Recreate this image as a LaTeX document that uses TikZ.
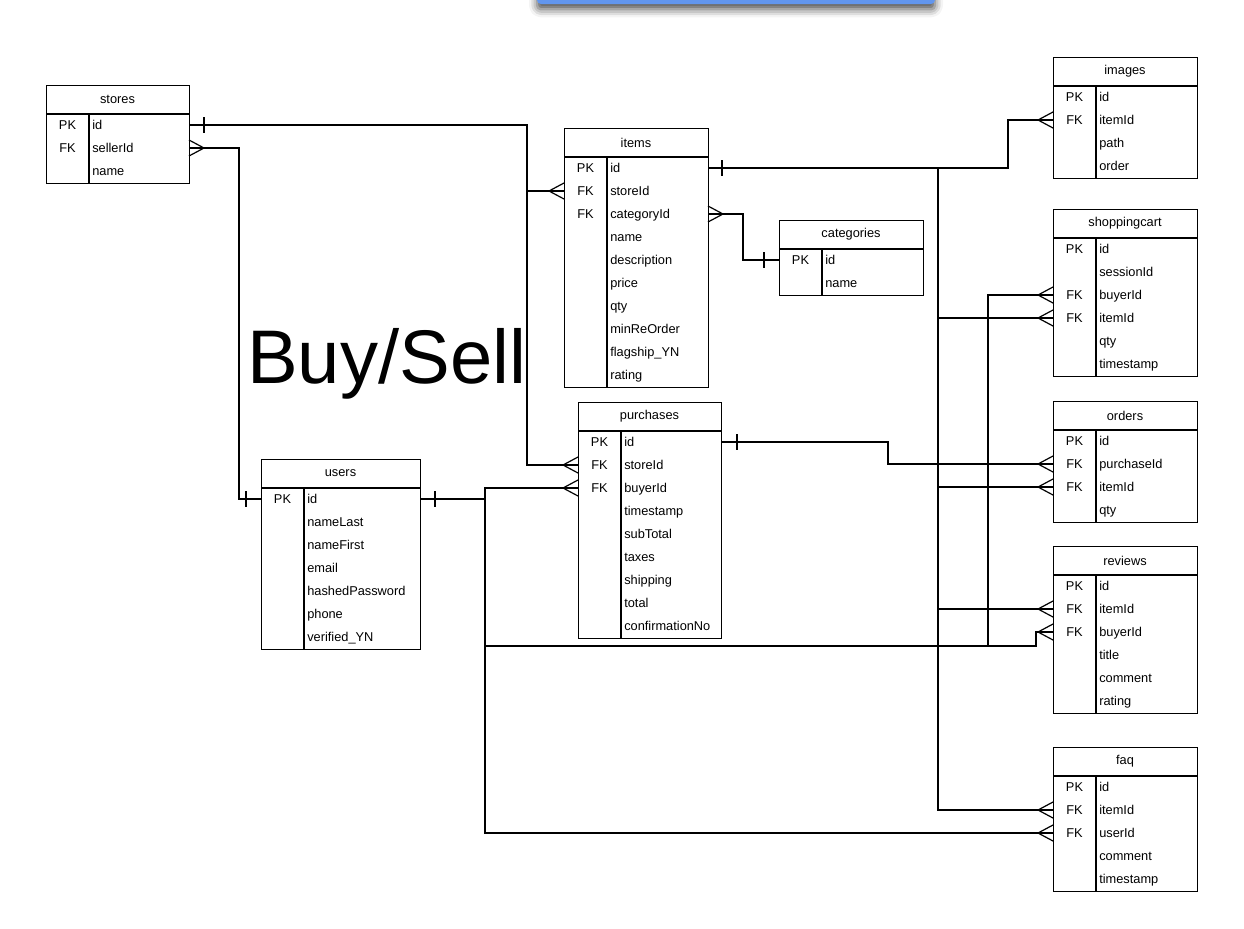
\documentclass[tikz,border=0pt]{standalone}
\usepackage{fontspec}
\setmainfont{Liberation Sans}
\usetikzlibrary{calc,shadows.blur}
\definecolor{barblue}{RGB}{98,150,238}
\tikzset{
  tbl/.style={draw, anchor=north west, inner sep=0pt, line width=0.9pt},
  ttl/.style={font=\fontsize{9.6}{11}\selectfont, inner sep=0pt},
  keytxt/.style={font=\fontsize{9.6}{11}\selectfont, inner sep=0pt},
  fldtxt/.style={font=\fontsize{9.6}{11}\selectfont, inner sep=0pt, anchor=west},
  conn/.style={line width=0.9pt},
}
\newcommand{\ertab}[7]{%
  \pgfmathsetmacro{\tabH}{29+23*#6}
  \node[tbl, minimum width=#4*0.75pt, minimum height=\tabH*0.75pt] (#1) at (#2,#3) {};
  \node[ttl] (#1-t) at (#2+#4/2,#3+14.5) {#5};
  \draw[line width=0.9pt] (#2,#3+29) -- (#2+#4,#3+29);
  \draw[line width=0.9pt] (#2+43,#3+29) -- (#2+43,#3+\tabH);
  \foreach \kk/\ff [count=\ii] in {#7} {
    \pgfmathsetmacro{\yy}{#3+29+23*\ii-12}
    \node[keytxt] (#1-k\ii) at (#2+21.5,\yy+2) {\strut\kk};
    \node[fldtxt] (#1-f\ii) at (#2+46,\yy+2) {\strut\ff};
    \coordinate (#1-\ii-w) at (#2,\yy);
    \coordinate (#1-\ii-e) at (#2+#4,\yy);
  }
}
\newcommand{\crowW}[1]{\draw[conn] ($(#1)+(0,-8)$) -- ($(#1)+(-15,0)$) -- ($(#1)+(0,8)$);}
\newcommand{\crowE}[1]{\draw[conn] ($(#1)+(0,-8)$) -- ($(#1)+(15,0)$) -- ($(#1)+(0,8)$);}
\newcommand{\tickE}[2]{\draw[conn] ($(#1)+(#2,-8)$) -- ($(#1)+(#2,8)$);}
\newcommand{\tickW}[2]{\draw[conn] ($(#1)+(-#2,-8)$) -- ($(#1)+(-#2,8)$);}
\begin{document}
\begin{tikzpicture}[x=0.75pt,y=-0.75pt]
\useasboundingbox (0,0) rectangle (1244,928);
% top bar
\fill[barblue, rounded corners=3pt, blur shadow={shadow xshift=0pt, shadow yshift=-4pt, shadow blur radius=6pt, shadow opacity=70}] (537,-30) rectangle (935,4);
% big title
\node[anchor=base west, inner sep=0pt, font=\fontsize{57}{60}\selectfont] (bigtitle) at (247,383) {Buy/Sell};
% tables
\ertab{stores}{46}{85}{143}{stores}{3}{PK/id,FK/sellerId,/name}
\ertab{items}{564}{128}{144}{items}{10}{PK/id,FK/storeId,FK/categoryId,/name,/description,/price,/qty,/minReOrder,/flagship\_YN,/rating}
\ertab{categories}{779}{220}{144}{categories}{2}{PK/id,/name}
\ertab{images}{1053}{57}{144}{images}{4}{PK/id,FK/itemId,/path,/order}
\ertab{shoppingcart}{1053}{209}{144}{shoppingcart}{6}{PK/id,/sessionId,FK/buyerId,FK/itemId,/qty,/timestamp}
\ertab{orders}{1053}{401}{144}{orders}{4}{PK/id,FK/purchaseId,FK/itemId,/qty}
\ertab{reviews}{1053}{546}{144}{reviews}{6}{PK/id,FK/itemId,FK/buyerId,/title,/comment,/rating}
\ertab{faq}{1053}{747}{144}{faq}{5}{PK/id,FK/itemId,FK/userId,/comment,/timestamp}
\ertab{purchases}{578}{402}{143}{purchases}{9}{PK/id,FK/storeId,FK/buyerId,/timestamp,/subTotal,/taxes,/shipping,/total,/confirmationNo}
\ertab{users}{261}{459}{159}{users}{7}{PK/id,/nameLast,/nameFirst,/email,/hashedPassword,/phone,/verified\_YN}
% bus coordinates
\coordinate (busA) at (527,0);
\coordinate (busB) at (239,0);
\coordinate (busC) at (485,0);
\coordinate (busD) at (0,646);
\coordinate (busE) at (1036,0);
\coordinate (busF) at (988,0);
\coordinate (busG) at (938,0);
\coordinate (busH) at (1008,0);
\coordinate (busI) at (743,0);
\coordinate (busJ) at (888,0);
% stores.id -> items.storeId, purchases.storeId
\draw[conn] (stores-1-e) -- (stores-1-e -| busA) |- (purchases-2-w);
\draw[conn] (busA |- items-2-w) -- (items-2-w);
% stores.sellerId -> users.id
\draw[conn] (stores-2-e) -- (stores-2-e -| busB) |- (users-1-w);
% users.id -> purchases.buyerId, reviews.buyerId, faq.userId, shoppingcart.buyerId
\draw[conn] (users-1-e) -- (users-1-e -| busC);
\draw[conn] (purchases-3-w) -- (busC |- purchases-3-w) -- (busC |- faq-3-w) -- (faq-3-w);
\draw[conn] (busC |- busD) -| (busE |- reviews-3-w) -- (reviews-3-w);
\draw[conn] (shoppingcart-3-w) -- (busF |- shoppingcart-3-w) -- (busF |- busD);
% items.id -> images, shoppingcart, orders, reviews, faq
\draw[conn] (items-1-e) -- (items-1-e -| busH) |- (images-2-w);
\draw[conn] (busG |- items-1-e) -- (busG |- faq-2-w) -- (faq-2-w);
\draw[conn] (busG |- shoppingcart-4-w) -- (shoppingcart-4-w);
\draw[conn] (busG |- orders-3-w) -- (orders-3-w);
\draw[conn] (busG |- reviews-2-w) -- (reviews-2-w);
% items.categoryId -> categories.id
\draw[conn] (items-3-e) -- (items-3-e -| busI) |- (categories-1-w);
% purchases.id -> orders.purchaseId
\draw[conn] (purchases-1-e) -- (purchases-1-e -| busJ) |- (orders-2-w);
% crow's feet
\crowW{items-2-w}
\crowW{purchases-2-w}
\crowE{stores-2-e}
\crowW{purchases-3-w}
\crowW{faq-3-w}
\crowW{reviews-3-w}
\crowW{shoppingcart-3-w}
\crowW{images-2-w}
\crowW{faq-2-w}
\crowW{shoppingcart-4-w}
\crowW{orders-3-w}
\crowW{reviews-2-w}
\crowE{items-3-e}
\crowW{orders-2-w}
% one-marks
\tickE{stores-1-e}{15}
\tickW{users-1-w}{15}
\tickE{users-1-e}{15}
\tickE{items-1-e}{14}
\tickW{categories-1-w}{15}
\tickE{purchases-1-e}{16}
\end{tikzpicture}
\end{document}
